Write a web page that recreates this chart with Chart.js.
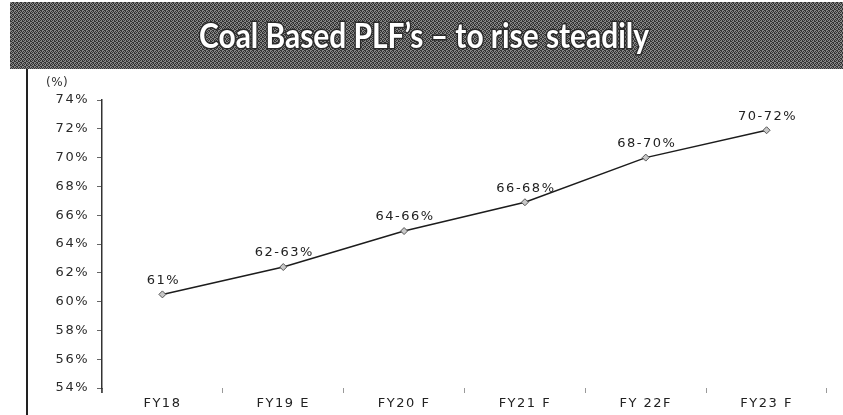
<!DOCTYPE html>
<html>
<head>
<meta charset="utf-8">
<script src="https://cdn.jsdelivr.net/npm/chart.js@4"></script>
<style>
  html, body { margin: 0; padding: 0; background: #fff; }
  #wrap { position: relative; width: 843px; height: 415px; }
</style>
</head>
<body>
<div id="wrap"><canvas id="plfChart" width="843" height="415"></canvas></div>
<script>
// chart data
const categories = ["FY18", "FY19 E", "FY20 F", "FY21 F", "FY 22F", "FY23 F"];
const plfValues = [60.5, 62.4, 64.9, 66.9, 70.0, 71.9];
const plfLabels = ["61%", "62-63%", "64-66%", "66-68%", "68-70%", "70-72%"];
const yMin = 54;
const yMax = 74;
const yStep = 2;
const titleText = "Coal Based PLF\u2019s \u2013 to rise steadily";

const labelFont = "'DejaVu Sans', 'Liberation Sans', sans-serif";
const spacing = "1.5px"; // the scanned labels are a bit wide

// dithered grey for the title band
function makeBandPattern(ctx) {
  const p = document.createElement("canvas");
  p.width = 4; p.height = 4;
  const pc = p.getContext("2d");
  pc.fillStyle = "#868686";
  pc.fillRect(0, 0, 4, 4);
  pc.fillStyle = "#333";
  pc.fillRect(0, 0, 1, 1); pc.fillRect(2, 1, 1, 1);
  pc.fillRect(1, 2, 1, 1); pc.fillRect(3, 3, 1, 1);
  pc.fillRect(2, 0, 1, 1); pc.fillRect(0, 2, 1, 1);
  pc.fillRect(3, 1, 1, 1); pc.fillRect(1, 3, 1, 1);
  return ctx.createPattern(p, "repeat");
}

const framePlugin = {
  id: "frame",
  beforeUpdate(chart) {
    chart.ctx.letterSpacing = spacing;
  },
  beforeDraw(chart) {
    const ctx = chart.ctx;
    ctx.letterSpacing = spacing;
    ctx.save();
    ctx.fillStyle = "#fff";
    ctx.fillRect(0, 0, chart.width, chart.height);
    // title band
    ctx.fillStyle = makeBandPattern(ctx);
    ctx.fillRect(10, 2, chart.width - 10, 67);
    // left frame line
    ctx.fillStyle = "#222";
    ctx.fillRect(26, 69, 2, chart.height - 69);
    // title
    ctx.letterSpacing = "0px";
    ctx.font = "bold 35px Lato, 'Open Sans', sans-serif";
    const w = ctx.measureText(titleText).width;
    const target = 450;
    ctx.translate(424, 48);
    ctx.scale(target / w, 1);
    ctx.textAlign = "center";
    ctx.textBaseline = "alphabetic";
    ctx.lineWidth = 3;
    ctx.strokeStyle = "#2a2a2a";
    ctx.strokeText(titleText, 0, 0);
    ctx.fillStyle = "#fff";
    ctx.fillText(titleText, 0, 0);
    ctx.restore();
    // unit label
    ctx.save();
    ctx.font = "12px " + labelFont;
    ctx.letterSpacing = "0.5px";
    ctx.fillStyle = "#333";
    ctx.textBaseline = "middle";
    ctx.fillText("(%)", 46, 83);
    ctx.restore();
  },
  afterDraw(chart) {
    // y axis line runs a little past the last tick, as in the source
    const y = chart.scales.y;
    const ctx = chart.ctx;
    ctx.save();
    ctx.strokeStyle = "#333";
    ctx.lineWidth = 1.5;
    ctx.beginPath();
    ctx.moveTo(y.right, y.bottom);
    ctx.lineTo(y.right, y.bottom + 5);
    ctx.stroke();
    ctx.restore();
  }
};

const pointLabelPlugin = {
  id: "pointLabels",
  afterDatasetsDraw(chart) {
    const ctx = chart.ctx;
    const meta = chart.getDatasetMeta(0);
    ctx.save();
    ctx.font = "13px " + labelFont;
    ctx.letterSpacing = spacing;
    ctx.fillStyle = "#222";
    ctx.textAlign = "center";
    ctx.textBaseline = "middle";
    meta.data.forEach((pt, i) => {
      ctx.fillText(plfLabels[i], pt.x + 1, pt.y - 14);
    });
    ctx.restore();
  }
};

const ctx = document.getElementById("plfChart").getContext("2d");
new Chart(ctx, {
  type: "line",
  data: {
    labels: categories,
    datasets: [{
      data: plfValues,
      borderColor: "#1c1c1c",
      borderWidth: 1.5,
      pointStyle: "rectRot",
      pointRadius: 3.5,
      pointBackgroundColor: "#c8c8c8",
      pointBorderColor: "#555",
      pointBorderWidth: 1,
      tension: 0
    }]
  },
  options: {
    responsive: false,
    animation: false,
    layout: { padding: { top: 100, right: 16, bottom: 0, left: 0 } },
    plugins: {
      legend: { display: false },
      tooltip: { enabled: false }
    },
    scales: {
      x: {
        offset: true,
        afterFit(scale) { scale.height = 27; },
        border: { display: false },
        grid: {
          offset: true,
          drawOnChartArea: false,
          tickLength: 5,
          color: "#999"
        },
        ticks: {
          color: "#222",
          padding: 3,
          font: { size: 13, family: labelFont }
        }
      },
      y: {
        min: yMin,
        max: yMax,
        afterFit(scale) { scale.width = 102; },
        border: { display: true, color: "#333", width: 1.5 },
        grid: {
          drawOnChartArea: false,
          tickLength: 5,
          color: "#666"
        },
        ticks: {
          stepSize: yStep,
          padding: 8,
          color: "#2a2a2a",
          font: { size: 13, family: labelFont },
          callback: v => v + "%"
        }
      }
    }
  },
  plugins: [framePlugin, pointLabelPlugin]
});
</script>
</body>
</html>
